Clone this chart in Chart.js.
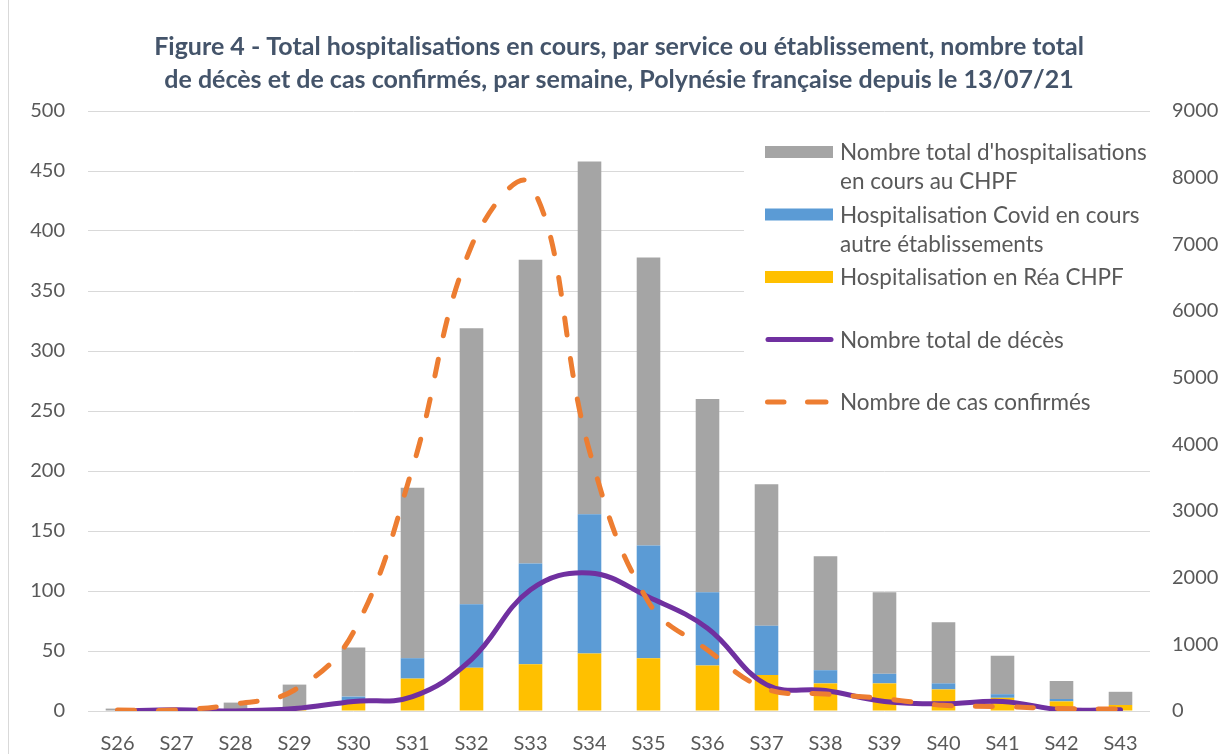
<!DOCTYPE html>
<html>
<head>
<meta charset="utf-8">
<script src="https://cdn.jsdelivr.net/npm/chart.js@4.4.1/dist/chart.umd.min.js"></script>
<style>
  html, body { margin: 0; padding: 0; background: #fff; }
  #wrap { width: 1229px; height: 754px; position: relative; }
</style>
</head>
<body>
<div id="wrap"><canvas id="bar-chart"></canvas></div>
<script>
// semaines
var weeks = ['S26','S27','S28','S29','S30','S31','S32','S33','S34','S35','S36','S37','S38','S39','S40','S41','S42','S43'];

// hospitalisations (axe gauche), empilées
var rea    = [0, 0, 0, 2, 8, 27, 36, 39, 48, 44, 38, 30, 23, 23, 18, 11, 8, 5];
var autres = [0, 0, 0, 0, 4, 17, 53, 84, 116, 94, 61, 41, 11, 8, 5, 3, 2, 0];
var chpf   = [2, 0, 7, 20, 41, 142, 230, 253, 294, 240, 161, 118, 95, 68, 51, 32, 15, 11];

// décès (axe gauche) et cas confirmés (axe droit)
var deces = [0, 1, 0, 2, 8, 12, 43, 101, 115, 95, 69, 22, 17, 8, 6, 8, 1, 1];
var cas   = [15, 15, 105, 315, 1185, 3645, 6975, 7900, 3900, 1635, 915, 330, 255, 185, 85, 65, 37, 30];

// legend text, one entry per line
var nameChpf   = ["Nombre total d'hospitalisations", "en cours au CHPF"];
var nameAutres = ["Hospitalisation Covid en cours", "autre établissements"];
var nameRea    = ["Hospitalisation en Réa CHPF"];
var nameDeces  = ["Nombre total de décès"];
var nameCas    = ["Nombre de cas confirmés"];

var titleLines = [
  "Figure 4 - Total hospitalisations en cours, par service ou établissement, nombre total",
  "de décès et de cas confirmés, par semaine, Polynésie française depuis le 13/07/21"
];

var textColor = '#595959';
var gridColor = '#D9D9D9';

// white background + left frame line
var background = {
  id: 'background',
  beforeDraw: function(chart){
    var ctx = chart.ctx;
    ctx.save();
    ctx.fillStyle = '#fff';
    ctx.fillRect(0, 0, chart.width, chart.height);
    ctx.strokeStyle = gridColor;
    ctx.lineWidth = 1;
    ctx.beginPath();
    ctx.moveTo(8.5, 0);
    ctx.lineTo(8.5, chart.height);
    ctx.stroke();
    ctx.restore();
  }
};

// legend drawn inside the plot, Excel style
var boxLegend = {
  id: 'boxLegend',
  afterDatasetsDraw: function(chart){
    var ctx = chart.ctx;
    var order = [2, 1, 0, 3, 4];
    var x0 = 765, x1 = 833, tx = 840;
    var y = 152;
    ctx.save();
    ctx.fillStyle = '#fff';
    ctx.fillRect(744, 124, 420, 296);
    ctx.font = '22.5px Lato';
    ctx.textBaseline = 'middle';
    ctx.textAlign = 'left';
    order.forEach(function(i){
      var ds = chart.data.datasets[i];
      if (ds.type === 'line') {
        ctx.strokeStyle = ds.borderColor;
        ctx.lineWidth = ds.borderWidth;
        ctx.lineCap = 'round';
        ctx.beginPath();
        if (ds.borderDash) {
          // two dashes
          ctx.moveTo(x0 + 2.5, y); ctx.lineTo(x0 + 19, y);
          ctx.moveTo(x0 + 42.5, y); ctx.lineTo(x0 + 61, y);
        } else {
          ctx.moveTo(x0 + 3, y);
          ctx.lineTo(x1 - 2, y);
        }
        ctx.stroke();
      } else {
        ctx.fillStyle = ds.backgroundColor;
        ctx.fillRect(x0, y - 6, x1 - x0, 12);
      }
      ctx.fillStyle = textColor;
      ds.legendLines.forEach(function(t, k){
        ctx.fillText(t, tx, y + 1 + k * 29);
      });
      y += 62.5;
    });
    ctx.restore();
  }
};

new Chart(document.getElementById('bar-chart'), {
  type: 'bar',
  data: {
    labels: weeks,
    datasets: [
      { label: nameRea.join(' '), legendLines: nameRea, data: rea, backgroundColor: '#FFC000', yAxisID: 'y', stack: 'h', order: 2 },
      { label: nameAutres.join(' '), legendLines: nameAutres, data: autres, backgroundColor: '#5B9BD5', yAxisID: 'y', stack: 'h', order: 2 },
      { label: nameChpf.join(' '), legendLines: nameChpf, data: chpf, backgroundColor: '#A5A5A5', yAxisID: 'y', stack: 'h', order: 2 },
      { type: 'line', label: nameDeces.join(' '), legendLines: nameDeces, data: deces, borderColor: '#7030A0',
        borderWidth: 5, tension: 0.4, pointRadius: 0, yAxisID: 'y', order: 1, borderCapStyle: 'round' },
      { type: 'line', label: nameCas.join(' '), legendLines: nameCas, data: cas, borderColor: '#ED7D31',
        borderWidth: 5, borderDash: [17, 24], borderCapStyle: 'round', tension: 0.4, pointRadius: 0, yAxisID: 'y1', order: 0 }
    ]
  },
  options: {
    responsive: true,
    maintainAspectRatio: false,
    animation: false,
    layout: { padding: { left: 0, right: 0, top: 0, bottom: 0 } },
    datasets: { bar: { barPercentage: 0.4, categoryPercentage: 1 } },
    plugins: {
      legend: { display: false },
      tooltip: { enabled: false },
      title: {
        display: true,
        fullSize: false,
        text: titleLines,
        color: '#44546A',
        font: { family: 'Lato', size: 25, weight: 'bold', lineHeight: 1.3 },
        padding: { top: 31, bottom: 15 }
      }
    },
    scales: {
      x: {
        stacked: true,
        grid: { display: false, drawTicks: false },
        border: { display: false },
        ticks: { color: textColor, font: { family: 'Lato', size: 20 }, padding: 21, maxRotation: 0 },
        afterFit: function(s){ s.height = 43; }
      },
      y: {
        position: 'left',
        stacked: true,
        min: 0, max: 500,
        grid: { color: gridColor, drawTicks: false },
        border: { display: false },
        ticks: { stepSize: 50, color: textColor, font: { family: 'Lato', size: 20 }, padding: 23 },
        afterFit: function(s){ s.width = 88; }
      },
      y1: {
        position: 'right',
        min: 0, max: 9000,
        grid: { display: false, drawTicks: false },
        border: { display: false },
        ticks: {
          stepSize: 1000, color: textColor, font: { family: 'Lato', size: 20 }, padding: 22,
          callback: function(v){ return String(v); }
        },
        afterFit: function(s){ s.width = 79; }
      }
    }
  },
  plugins: [background, boxLegend]
});
</script>
</body>
</html>
